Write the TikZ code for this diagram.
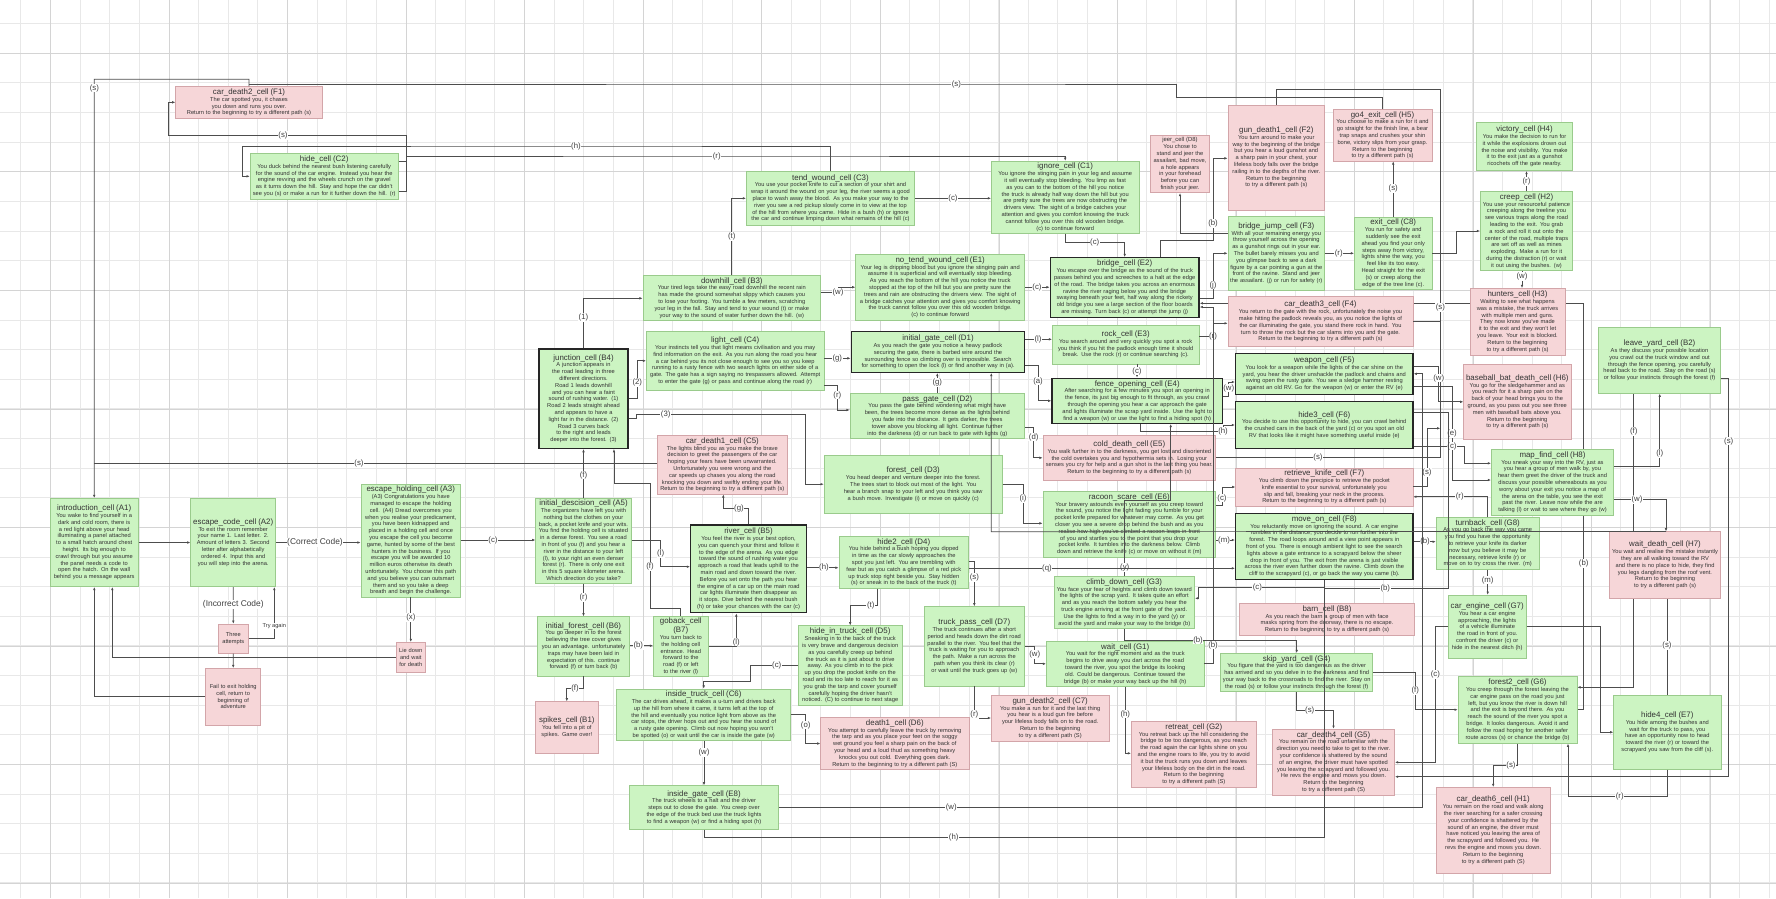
\documentclass[tikz,border=0pt]{standalone}
\usepackage{fontspec}
\setmainfont{Liberation Sans}
\usetikzlibrary{arrows.meta,backgrounds}
\definecolor{cellgreen}{HTML}{CCF4C2}
\definecolor{greenline}{HTML}{9ACB8C}
\definecolor{cellpink}{HTML}{F6D6D8}
\definecolor{pinkline}{HTML}{D3A5A9}
\definecolor{textgray}{HTML}{333333}
\definecolor{edgegray}{HTML}{4D4D4D}
\newcommand{\ttl}[1]{{\fontsize{7.9}{9}\selectfont #1\par}}
\hyphenpenalty=10000
\exhyphenpenalty=10000

\begin{document}
\begin{tikzpicture}[x=1pt,y=-1pt,
  every node/.style={font=\fontsize{5.7}{6.8}\selectfont,text=textgray},
  gcell/.style={draw=greenline,fill=cellgreen,align=center,inner sep=2pt,line width=0.6pt},
  gbold/.style={gcell,draw=black!85,line width=1.4pt},
  pcell/.style={draw=pinkline,fill=cellpink,align=center,inner sep=2pt,line width=0.6pt},
  ar/.style={-{Latex[length=3.2pt,width=2.6pt]},draw=edgegray,line width=0.7pt},
  ln/.style={draw=edgegray,line width=0.7pt},
  lbl/.style={fill=white,inner sep=0.6pt,font=\fontsize{7.8}{8}\selectfont,text=black!75},
  gmin/.style={draw=black!9,line width=0.6pt},
  gmaj/.style={draw=black!17,line width=0.7pt}]
\useasboundingbox (0,0) rectangle (1776,898);
\begin{scope}[on background layer]
\fill[white] (0,0) rectangle (1776,898);
\foreach \i in {0,...,59} \draw[gmin] ({20.7+29.63*\i},0) -- ++(0,898);
\foreach \j in {0,...,29} \draw[gmin] (0,{23.5+29.63*\j}) -- ++(1776,0);
\foreach \i in {0,...,14} \draw[gmaj] ({50.7+118.52*\i},0) -- ++(0,898);
\foreach \j in {0,...,7} \draw[gmaj] (0,{53.3+118.52*\j}) -- ++(1776,0);
\end{scope}

% cells
\node[pcell,text width=142.6pt,minimum height=31.6pt] (cdeathtwo) at (249,102.5) {\ttl{car\_death2\_cell (F1)}The car spotted you, it chases you down and runs you over.\\Return to the beginning to try a different path (s)};
\node[gcell,text width=144.3pt,minimum height=46pt] (hide) at (324.2,176.3) {\ttl{hide\_cell (C2)}You duck behind the nearest bush listening carefully for the sound of the car engine. Instead you hear the engine revving and the wheels crunch on the gravel as it turns down the hill. Stay and hope the car didn't see you (s) or make a run for it further down the hill. (r)};
\node[gcell,text width=164.4pt,minimum height=53.3pt] (tend) at (830.5,198.3) {\ttl{tend\_wound\_cell (C3)}You use your pocket knife to cut a section of your shirt and wrap it around the wound on your leg, the river seems a good place to wash away the blood. As you make your way to the river you see a red pickup slowly come in to view at the top of the hill from where you came. Hide in a bush (h) or ignore the car and continue limping down what remains of the hill (c)};
\node[gcell,text width=143.7pt,minimum height=65.7pt] (ignore) at (1065.2,197.2) {\ttl{ignore\_cell (C1)}You ignore the stinging pain in your leg and assume it will eventually stop bleeding. You limp as fast as you can to the bottom of the hill you notice the truck is already half way down the hill but you are pretty sure the trees are now obstructing the drivers view. The sight of a bridge catches your attention and gives you comfort knowing the truck cannot follow you over this old wooden bridge.\\(c) to continue forward};
\node[pcell,text width=55.4pt,minimum height=51.7pt] (jeer) at (1180,164.2) {{\fontsize{5.9}{7.2}\selectfont jeer\_cell (D8)\par}You chose to stand and jeer the assailant, bad move, a hole appears in your forehead before you can finish your jeer.};
\node[pcell,text width=92.7pt,minimum height=105pt] (gdeathone) at (1276.3,157.5) {\ttl{gun\_death1\_cell (F2)}You turn around to make your way to the beginning of the bridge but you hear a loud gunshot and a sharp pain in your chest, your lifeless body falls over the bridge railing in to the depths of the river.\\Return to the beginning to try a different path (s)};
\node[gcell,text width=92.7pt,minimum height=73.3pt] (bjump) at (1276.3,253.3) {\ttl{bridge\_jump\_cell (F3)}With all your remaining energy you throw yourself across the opening as a gunshot rings out in your ear. The bullet barely misses you and you glimpse back to see a dark figure by a car pointing a gun at the front of the ravine. Stand and jeer the assailant. (j) or run for safety (r)};
\node[pcell,text width=95pt,minimum height=51.7pt] (gofour) at (1382.5,135.2) {\ttl{go4\_exit\_cell (H5)}You choose to make a run for it and go straight for the finish line, a bear trap snaps and crushes your shin bone, victory slips from your grasp.\\Return to the beginning to try a different path (s)};
\node[gcell,text width=73.7pt,minimum height=70pt] (exit) at (1393.2,253.3) {\ttl{exit\_cell (C8)}You run for safety and suddenly see the exit ahead you find your only steps away from victory, lights shine the way, you feel like its too easy. Head straight for the exit (s) or creep along the edge of the tree line (c).};
\node[gcell,text width=92.4pt,minimum height=48.4pt] (victory) at (1524.5,146.5) {\ttl{victory\_cell (H4)}You make the decision to run for it while the explosions drown out the noise and visibility. You make it to the exit just as a gunshot ricochets off the gate nearby.};
\node[gcell,text width=88.4pt,minimum height=73.4pt] (creep) at (1526.5,231) {\ttl{creep\_cell (H2)}You use your resourceful patience creeping along the treeline you see various traps along the road leading to the exit. You grab a rock and roll it out onto the center of the road, multiple traps are set off as well as mines exploding. Make a run for it during the distraction (r) or wait it out using the bushes. (w)};
\node[pcell,text width=91pt,minimum height=66.7pt] (hunters) at (1517.5,321.7) {\ttl{hunters\_cell (H3)}Waiting to see what happens was a mistake, the truck arrives with multiple men and guns. They now know you've made it to the exit and they won't let you leave. Your exit is blocked.\\Return to the beginning to try a different path (s)};
\node[gcell,text width=117.6pt,minimum height=65.6pt] (leave) at (1659.5,360.5) {\ttl{leave\_yard\_cell (B2)}As they discuss your possible location you crawl out the truck window and out through the fence opening, you carefully head back to the road. Stay on the road (s) or follow your instincts through the forest (f)};
\node[gcell,text width=173.7pt,minimum height=44.3pt] (downhill) at (731.8,297.8) {\ttl{downhill\_cell (B3)}Your tired legs take the easy road downhill the recent rain has made the ground somewhat slippy which causes you to lose your footing. You tumble a few meters, scratching your leg in the fall. Stay and tend to your wound (t) or make your way to the sound of water further down the hill. (w)};
\node[gcell,text width=165pt,minimum height=65.7pt] (notend) at (940.2,287.2) {\ttl{no\_tend\_wound\_cell (E1)}Your leg is dripping blood but you ignore the stinging pain and assume it is superficial and will eventually stop bleeding. As you reach the bottom of the hill you notice the truck stopped at the top of the hill but you are pretty sure the trees and rain are obstructing the drivers view. The sight of a bridge catches your attention and gives you comfort knowing the truck cannot follow you over this old wooden bridge.\\(c) to continue forward};
\node[gbold,text width=144.7pt,minimum height=59.6pt] (bridge) at (1124.7,287.5) {\ttl{bridge\_cell (E2)}You escape over the bridge as the sound of the truck passes behind you and screeches to a halt at the edge of the road. The bridge takes you across an enormous ravine the river raging below you and the bridge swaying beneath your feet, half way along the rickety old bridge you see a large section of the floor boards are missing. Turn back (c) or attempt the jump (j)};
\node[pcell,text width=181pt,minimum height=50pt] (cdeaththree) at (1320.5,321.7) {\ttl{car\_death3\_cell (F4)}You return to the gate with the rock, unfortunately the noise you make hitting the padlock reveals you, as you notice the lights of the car illuminating the gate, you stand there rock in hand. You turn to throw the rock but the car slams into you and the gate.\\Return to the beginning to try a different path (s)};
\node[gcell,text width=173.7pt,minimum height=58.3pt] (light) at (735.2,360.8) {\ttl{light\_cell (C4)}Your instincts tell you that light means civilisation and you may find information on the exit. As you run along the road you hear a car behind you its not close enough to see you so you keep running to a rusty fence with two search lights on either side of a gate. The gate has a sign saying no trespassers allowed. Attempt to enter the gate (g) or pass and continue along the road (r)};
\node[gbold,text width=169.4pt,minimum height=40.6pt] (igate) at (938,352) {\ttl{initial\_gate\_cell (D1)}As you reach the gate you notice a heavy padlock securing the gate, there is barbed wire around the surrounding fence so climbing over is impossible. Search for something to open the lock (l) or find another way in (a).};
\node[gcell,text width=142.7pt,minimum height=39pt] (rock) at (1125.7,344.5) {\ttl{rock\_cell (E3)}You search around and very quickly you spot a rock you think if you hit the padlock enough time it should break. Use the rock (r) or continue searching (c).};
\node[gbold,text width=85pt,minimum height=99.3pt] (junction) at (583.5,398.7) {\ttl{junction\_cell (B4)}A junction appears in the road leading in three different directions.\\Road 1 leads downhill and you can hear a faint sound of rushing water. (1)\\Road 2 leads straight ahead and appears to have a light far in the distance. (2)\\Road 3 curves back to the right and leads deeper into the forest. (3)};
\node[gcell,text width=170.7pt,minimum height=45pt] (pass) at (937.3,415.8) {\ttl{pass\_gate\_cell (D2)}You pass the gate behind wondering what might have been, the trees become more dense as the lights behind you fade into the distance. It gets darker, the trees tower above you blocking all light. Continue further into the darkness (d) or run back to gate with lights (g)};
\node[gbold,text width=166.3pt,minimum height=45pt] (fence) at (1137.2,400.8) {\ttl{fence\_opening\_cell (E4)}After searching for a few minutes you spot an opening in the fence, its just big enough to fit through, as you crawl through the opening you hear a car approach the gate and lights illuminate the scrap yard inside. Use the light to find a weapon (w) or use the light to find a hiding spot (h)};
\node[gbold,text width=173.3pt,minimum height=41pt] (weapon) at (1324.3,373.8) {\ttl{weapon\_cell (F5)}You look for a weapon while the lights of the car shine on the yard, you hear the driver unshackle the padlock and chains and swing open the rusty gate. You see a sledge hammer resting against an old RV. Go for the weapon (w) or enter the RV (e)};
\node[gbold,text width=173.3pt,minimum height=46.6pt] (hidethree) at (1324.3,425) {\ttl{hide3\_cell (F6)}You decide to use this opportunity to hide, you can crawl behind the crushed cars in the back of the yard (c) or you spot an old RV that looks like it might have something useful inside (e)};
\node[pcell,text width=103.3pt,minimum height=75pt] (bat) at (1517.3,401.8) {\ttl{baseball\_bat\_death\_cell (H6)}You go for the sledgehammer and as you reach for it a sharp pain on the back of your head brings you to the ground, as you pass out you see three men with baseball bats above you.\\Return to the beginning to try a different path (s)};
\node[pcell,text width=126pt,minimum height=58.3pt] (cdeathone) at (722.3,464.8) {\ttl{car\_death1\_cell (C5)}The lights blind you as you make the brave decision to greet the passengers of the car hoping your fears have been unwarranted. Unfortunately you were wrong and the car speeds up chases you along the road knocking you down and swiftly ending your life.\\Return to the beginning to try a different path (s)};
\node[gcell,text width=174.3pt,minimum height=58.3pt] (forest) at (913.2,484.2) {\ttl{forest\_cell (D3)}You head deeper and venture deeper into the forest. The trees start to block out most of the light. You hear a branch snap to your left and you think you saw a bush move. Investigate (i) or move on quickly (c)};
\node[pcell,text width=168.7pt,minimum height=44.3pt] (cold) at (1129.3,457.8) {\ttl{cold\_death\_cell (E5)}You walk further in to the darkness, you get lost and disoriented the cold overtakes you and hypothermia sets in. Losing your senses you cry for help and a gun shot is the last thing you hear.\\Return to the beginning to try a different path (s)};
\node[pcell,text width=173.3pt,minimum height=37.4pt] (knife) at (1324.3,487) {\ttl{retrieve\_knife\_cell (F7)}You climb down the precipice to retrieve the pocket knife essential to your survival, unfortunately you slip and fall, breaking your neck in the process.\\Return to the beginning to try a different path (s)};
\node[gcell,text width=118.4pt,minimum height=65.7pt] (map) at (1552.5,482.2) {\ttl{map\_find\_cell (H8)}You sneak your way into the RV, just as you hear a group of men walk by, you hear them greet the driver of the truck and discuss your possible whereabouts as you worry about your exit you notice a map of the arena on the table, you see the exit past the river. Leave now while the are talking (l) or wait to see where they go (w)};
\node[gcell,text width=84.3pt,minimum height=88.4pt] (intro) at (94.2,542.5) {\ttl{introduction\_cell (A1)}You wake to find yourself in a dark and cold room, there is a red light above your head illuminating a panel attached to a small hatch around chest height. Its big enough to crawl through but you assume the panel needs a code to open the hatch. On the wall behind you a message appears};
\node[gcell,text width=81pt,minimum height=88.4pt] (code) at (233.2,542.5) {\ttl{escape\_code\_cell (A2)}To exit the room remember your name 1. Last letter. 2. Amount of letters 3. Second letter after alphabetically ordered 4. Input this and you will step into the arena.};
\node[gcell,text width=95.7pt,minimum height=106.7pt] (holding) at (410.8,540.7) {\ttl{escape\_holding\_cell (A3)}(A3) Congratulations you have managed to escape the holding cell. (A4) Dread overcomes you when you realise your predicament, you have been kidnapped and placed in a holding cell and once you escape the cell you become game, hunted by some of the best hunters in the business. If you escape you will be awarded 10 million euros otherwise its death unfortunately. You choose this path and you believe you can outsmart them and so you take a deep breath and begin the challenge.};
\node[gcell,text width=91.6pt,minimum height=77pt] (decision) at (583.5,540.8) {\ttl{initial\_descision\_cell (A5)}The organizers have left you with nothing but the clothes on your back, a pocket knife and your wits. You find the holding cell is situated in a dense forest. You see a road in front of you (f) and you hear a river in the distance to your left (l), to your right an even denser forest (r). There is only one exit in this 5 square kilometer arena. Which direction do you take?};
\node[gbold,text width=111.6pt,minimum height=87.7pt] (river) at (748.5,568.8) {\ttl{river\_cell (B5)}You feel the river is your best option, you can quench your thirst and follow it to the edge of the arena. As you edge toward the sound of rushing water you approach a road that leads uphill to the main road and down toward the river. Before you set onto the path you hear the engine of a car up on the main road car lights illuminate then disappear as it stops. Dive behind the nearest bush (h) or take your chances with the car (c)};
\node[gcell,text width=125.7pt,minimum height=52.3pt] (hidetwo) at (903.8,562.2) {\ttl{hide2\_cell (D4)}You hide behind a bush hoping you dipped in time as the car slowly approaches the spot you just left. You are trembling with fear but as you catch a glimpse of a red pick up truck stop right beside you. Stay hidden (s) or sneak in to the back of the truck (t)};
\node[gcell,text width=168.7pt,minimum height=65pt] (racoon) at (1129.3,524.2) {\ttl{racoon\_scare\_cell (E6)}Your bravery astounds even yourself as you creep toward the sound, you notice the light fading you fumble for your pocket knife prepared for whatever may come. As you get closer you see a severe drop behind the bush and as you realise how high you've climbed a racoon leaps in front of you and startles you to the point that you drop your pocket knife. It tumbles into the darkness below. Climb down and retrieve the knife (c) or move on without it (m)};
\node[gbold,text width=173.3pt,minimum height=66pt] (moveon) at (1324.3,546.3) {\ttl{move\_on\_cell (F8)}You reluctantly move on ignoring the sound. A car engine rumbles in the distance, you decide to run further into the forest. The road loops around and a view point appears in front of you. There is enough ambient light to see the search lights above a gate entrance to a scrapyard below the sheer drop in front of you. The exit from the arena is just visible across the river even further down the ravine. Climb down the cliff to the scrapyard (c), or go back the way you came (b).};
\node[gcell,text width=99.3pt,minimum height=52pt] (turnback) at (1487.7,543.3) {\ttl{turnback\_cell (G8)}As you go back the way you came you find you have the opportunity to retrieve your knife its darker now but you believe it may be necessary, retrieve knife (r) or move on to try cross the river. (m)};
\node[pcell,text width=106.6pt,minimum height=66.6pt] (waitdeath) at (1665,565) {\ttl{wait\_death\_cell (H7)}You wait and realise the mistake instantly they are all walking toward the RV and there is no place to hide, they find you legs dangling from the roof vent.\\Return to the beginning to try a different path (s)};
\node[gcell,text width=136.7pt,minimum height=51.6pt] (climb) at (1124.3,602.5) {\ttl{climb\_down\_cell (G3)}You face your fear of heights and climb down toward the lights of the scrap yard. It takes quite an effort and as you reach the bottom safely you hear the truck engine arriving at the front gate of the yard. Use the lights to find a way in to the yard (y) or avoid the yard and make your way to the bridge (b)};
\node[pcell,text width=170.6pt,minimum height=31.7pt] (barn) at (1327,619.2) {\ttl{barn\_cell (B8)}As you reach the barn a group of men with face masks spring from the doorway, there is no escape.\\Return to the beginning to try a different path (s)};
\node[gcell,text width=74.3pt,minimum height=63.3pt] (engine) at (1487.2,626.7) {\ttl{car\_engine\_cell (G7)}You hear a car engine approaching, the lights of a vehicle illuminate the road in front of you. confront the driver (c) or hide in the nearest ditch (h)};
\node[pcell,text width=26pt,minimum height=29.3pt] (tries) at (233.3,638.7) {Three attempts};
\node[pcell,text width=51pt,minimum height=56.7pt] (fail) at (233.2,696.7) {Fail to exit holding cell, return to beginning of adventure};
\node[pcell,text width=25.7pt,minimum height=30pt] (liedown) at (410.8,657.3) {Lie down and wait for death};
\node[gcell,text width=88.4pt,minimum height=59.3pt] (iforest) at (583.5,646.3) {\ttl{initial\_forest\_cell (B6)}You go deeper in to the forest believing the tree cover gives you an advantage. unfortunately traps may have been laid in expectation of this. continue forward (f) or turn back (b)};
\node[gcell,text width=51pt,minimum height=59.3pt] (goback) at (680.8,646.3) {\ttl{goback\_cell (B7)}You turn back to the holding cell entrance. Head forward to the road (f) or left to the river (l)};
\node[pcell,text width=58.3pt,minimum height=51.6pt] (spikes) at (566.8,727.5) {\ttl{spikes\_cell (B1)}You fell into a pit of spikes. Game over!};
\node[gcell,text width=99.7pt,minimum height=80pt] (intruck) at (850.2,665.7) {\ttl{hide\_in\_truck\_cell (D5)}Sneaking in to the back of the truck is very brave and dangerous decision as you carefully creep up behind the truck as it is just about to drive away. As you climb in to the pick up you drop the pocket knife on the road and its too late to reach for it as you grab the tarp and cover yourself carefully hoping the driver hasn't noticed. (C) to continue to next stage};
\node[gcell,text width=170pt,minimum height=51.7pt] (insidetruck) at (703.7,714.8) {\ttl{inside\_truck\_cell (C6)}The car drives ahead, it makes a u-turn and drives back up the hill from where it came, it turns left at the top of the hill and eventually you notice light from above as the car stops, the driver hops out and you hear the sound of a rusty gate opening. Climb out now hoping you won't be spotted (o) or wait until the car is inside the gate (w)};
\node[gcell,text width=144.6pt,minimum height=43.6pt] (insidegate) at (704,807.5) {\ttl{inside\_gate\_cell (E8)}The truck wheels to a halt and the driver steps out to close the gate. You creep over the edge of the truck bed use the truck lights to find a weapon (w) or find a hiding spot (h)};
\node[pcell,text width=144.3pt,minimum height=51.6pt] (deathone) at (894.8,743.5) {\ttl{death1\_cell (D6)}You attempt to carefully leave the truck by removing the tarp and as you place your feet on the soggy wet ground you feel a sharp pain on the back of your head and a loud thud as something heavy knocks you out cold. Everything goes dark.\\Return to the beginning to try a different path (S)};
\node[gcell,text width=96.7pt,minimum height=79.3pt] (truckpass) at (974.3,646.3) {\ttl{truck\_pass\_cell (D7)}The truck continues after a short period and heads down the dirt road parallel to the river. You feel that the truck is waiting for you to approach the path. Make a run across the path when you think its clear (r) or wait until the truck goes up (w)};
\node[pcell,text width=113.7pt,minimum height=46pt] (gdeathtwo) at (1050.2,718) {\ttl{gun\_death2\_cell (C7)}You make a run for it and the last thing you hear is a loud gun fire before your lifeless body falls on to the road.\\Return to the beginning to try a different path (S)};
\node[gcell,text width=153.7pt,minimum height=37.7pt] (wait) at (1125.2,663.8) {\ttl{wait\_cell (G1)}You wait for the right moment and as the truck begins to drive away you dart across the road toward the river, you spot the bridge its looking old. Could be dangerous. Continue toward the bridge (b) or make your way back up the hill (h)};
\node[pcell,text width=121pt,minimum height=58.3pt] (retreat) at (1193.8,754.2) {\ttl{retreat\_cell (G2)}You retreat back up the hill considering the bridge to be too dangerous, as you reach the road again the car lights shine on you and the engine roars to life, you try to avoid it but the truck runs you down and leaves your lifeless body on the dirt in the road.\\Return to the beginning to try a different path (S)};
\node[gcell,text width=148pt,minimum height=38.4pt] (skip) at (1296.7,672.5) {\ttl{skip\_yard\_cell (G4)}You figure that the yard is too dangerous as the driver has arrived and so you delve in to the darkness and find your way back to the crossroads to find the river. Stay on the road (s) or follow your instincts through the forest (f)};
\node[pcell,text width=118.4pt,minimum height=66pt] (cdeathfour) at (1333.5,762) {\ttl{car\_death4\_cell (G5)}You remain on the road unfamiliar with the direction you need to take to get to the river. your confidence is shattered by the sound of an engine, the driver must have spotted you leaving the scrapyard and followed you. He revs the engine and mows you down.\\Return to the beginning to try a different path (S)};
\node[gcell,text width=115pt,minimum height=67.3pt] (foresttwo) at (1517.5,709.7) {\ttl{forest2\_cell (G6)}You creep through the forest leaving the car engine pass on the road you just left, but you know the river is down hill and the exit is beyond there. As you reach the sound of the river you spot a bridge. It looks dangerous. Avoid it and follow the road hoping for another safer route across (s) or chance the bridge (b)};
\node[pcell,text width=110.3pt,minimum height=86pt] (cdeathsix) at (1493.2,830.3) {\ttl{car\_death6\_cell (H1)}You remain on the road and walk along the river searching for a safer crossing your confidence is shattered by the sound of an engine, the driver must have noticed you leaving the area of the scrapyard and followed you. He revs the engine and mows you down.\\Return to the beginning to try a different path (S)};
\node[gcell,text width=103.3pt,minimum height=74.3pt] (hidefour) at (1667.3,732.2) {\ttl{hide4\_cell (E7)}You hide among the bushes and wait for the truck to pass, you have an opportunity now to head toward the river (r) or toward the scrapyard you saw from the cliff (s).};

% return lines along the top
\draw[ar] (cdeathtwo.north) -- (249,79.3) -- (94.3,79.3) -- (94.3,88) node[lbl]{(s)} -- (intro.north);
\draw[ln] (gofour.north) -- (1382.5,97) -- (1176.3,97) -- (1176.3,84) -- (956.3,84) node[lbl]{(s)} -- (249,84);
\draw[ln] (cold.east |- 0,457.3) -- (1318,457.3) node[lbl]{(s)} -- (1440.3,457.3) -- (1440.3,307.7) node[lbl]{(s)} -- (1440.3,89.3) -- (1276.3,89.3) -- (gdeathone.north);
\draw[ar] (knife.east |- 0,486.7) -- (1427,486.7) -- (1427,472.3) node[lbl]{(s)} -- (1427,428.3) -- (1440.3,428.3);
\draw[ln] (cdeaththree.east) -- (1440.3,321.7);
\draw[ln] (cdeathone.west |- 0,463.7) -- (359,463.7) node[lbl]{(s)} -- (94.3,463.7);
\draw[ar] (hide.east |- 0,161.7) -- (406,161.7) -- (406,135.7) -- (283,135.7) node[lbl]{(s)} -- (168.3,135.7) -- (168.3,102.3) -- (cdeathtwo.west |- 0,102.3);
\draw[ar] (hide.east |- 0,191.7) -- (406,191.7) -- (406,156) -- (716.7,156) node[lbl]{(r)} -- (1065.2,156) -- (ignore.north);
\draw[ar] (tend.north) -- (830.5,146) -- (576,146) node[lbl]{(h)} -- (242.3,146) -- (242.3,176.3) -- (hide.west);
\draw[ar] (tend.east) -- (953,198.3) node[lbl]{(c)} -- (ignore.west |- tend.east);
\draw[ar] (ignore.south) -- (1065.2,242.7) -- (1094.7,242.7) node[lbl]{(c)} -- (1124.7,242.7) -- (bridge.north);
\draw[ar] (downhill.north) -- (731.8,236.7) node[lbl]{(t)} -- (731.8,198.3) -- (tend.west);
\draw[ar] (downhill.east |- 0,292.7) -- (838,292.7) node[lbl]{(w)} -- (838,287.2) -- (notend.west);
\draw[ar] (junction.north) -- (583.5,317.3) node[lbl]{(1)} -- (583.5,298.3) -- (downhill.west |- 0,298.3);
\draw[ar] (notend.east) -- (1037,287.2) node[lbl]{(c)} -- (bridge.west |- notend.east);
\draw[ar] (bjump.west |- 0,233.3) -- (1180,233.3) -- (jeer.south);
\draw[ar] (bridge.north -| 1160.7,0) -- (1160.7,240) -- (1213,240) -- (1213,223.3) node[lbl]{(b)} -- (1213,158.3) -- (gdeathone.west |- 0,158.3);
\draw[ar] (bridge.east |- 0,298) -- (1213,298) -- (1213,285) node[lbl]{(j)} -- (1213,253.3) -- (bjump.west |- 0,253.3);
\draw[ar] (rock.east |- 0,336) -- (1213,336) node[lbl]{(r)} -- (1213,323.3) -- (cdeaththree.west |- 0,323.3);
\draw[ar] (wait.east |- 0,663.3) -- (1213,663.3) -- (1213,645) node[lbl]{(b)} -- (1213,307) -- (bridge.east |- 0,307);
\draw[ar] (climb.south -| 1124.7,0) -- (1124.7,640) -- (1198,640) node[lbl]{(b)} -- (1296.7,640) -- (skip.north);
\draw[ar] (bjump.east) -- (1338.7,253.3) node[lbl]{(r)} -- (exit.west);
\draw[ar] (exit.north) -- (1393.2,188.3) node[lbl]{(s)} -- (exit.north |- gofour.south);
\draw[ar] (exit.east) -- (1456,253.3) -- (1456,231) -- (creep.west);
\draw[ar] (creep.north) -- (1526.5,181.7) node[lbl]{(r)} -- (creep.north |- victory.south);
\draw[ar] (creep.south -| 1522,0) -- (1522,276.7) node[lbl]{(w)} -- (hunters.north -| 1522,0);
% middle band
\draw[ar] (junction.east |- 0,398.3) -- (637.3,398.3) -- (637.3,382.3) node[lbl]{(2)} -- (637.3,360.8) -- (light.west);
\draw[ar] (junction.east |- 0,418.3) -- (636,418.3) -- (636,414) -- (665.7,414) node[lbl]{(3)} -- (805.7,414) -- (805.7,484.2) -- (forest.west);
\draw[ar] (light.east |- 0,358.3) -- (837.3,358.3) node[lbl]{(g)} -- (igate.west |- 0,358.3);
\draw[ar] (light.east |- 0,385) -- (837.3,385) -- (837.3,395) node[lbl]{(r)} -- (837.3,410) -- (pass.west |- 0,410);
\draw[ar] (igate.east |- 0,339.3) -- (1038,339.3) node[lbl]{(l)} -- (rock.west |- 0,339.3);
\draw[ar] (igate.east |- 0,365) -- (1038,365) -- (1038,381) node[lbl]{(a)} -- (1038,400.8) -- (fence.west);
\draw[ar] (pass.north) -- (937.3,382.3) node[lbl]{(g)} -- (pass.north |- igate.south);
\draw[ar] (pass.east |- 0,427.7) -- (1033.7,427.7) -- (1033.7,437) node[lbl]{(d)} -- (1033.7,457.8) -- (cold.west);
\draw[ar] (rock.south -| 1137,0) -- (1137,371) node[lbl]{(c)} -- (fence.north -| 1137,0);
\draw[ar] (fence.east |- 0,396) -- (1228.7,396) -- (1228.7,388) node[lbl]{(w)} -- (1228.7,382) -- (weapon.west |- 0,382);
\draw[ar] (fence.south -| 1140,0) -- (1140,431) -- (1223,431) node[lbl]{(h)} -- (1223,425) -- (hidethree.west);
\draw[ar] (forest.east) -- (1023,484.2) -- (1023,498.3) node[lbl]{(i)} -- (1023,523.3) -- (racoon.west |- 0,523.3);
\draw[ar] (racoon.east |- 0,505) -- (1222,505) -- (1222,498) node[lbl]{(c)} -- (1222,487) -- (knife.west);
\draw[ar] (racoon.east |- 0,540) -- (1224,540) node[lbl]{(m)} -- (moveon.west |- 0,540);
\draw[ar] (climb.north -| 1124.7,0) -- (1124.7,567.7) node[lbl]{(y)} -- (1124.7,500) -- (1170.7,500) -- (fence.south -| 1170.7,0);
\draw[ar] (hidetwo.east |- 0,568.3) -- (1047,568.3) node[lbl]{(q)} -- (moveon.west |- 0,568.3);
\draw[ln] (hidefour.north -| 1667,0) -- (1667,645.7) node[lbl]{(s)} -- (waitdeath.south -| 1667,0);
\draw[ar] (waitdeath.north -| 1666,0) -- (991.3,531.7) -- (igate.south -| 991.3,0);
\draw[ar] (moveon.east |- 0,541.7) -- (1425,541.7) node[lbl]{(b)} -- (turnback.west |- 0,541.7);
\draw[ar] (moveon.south -| 1324.7,0) -- (1324.7,587.3) -- (1257.3,587.3) node[lbl]{(c)} -- (1198,587.3) -- (1198,598.3) -- (climb.east |- 0,598.3);
\draw[ar] (weapon.east |- 0,366) -- (1438.7,366) -- (1438.7,378) node[lbl]{(w)} -- (1438.7,401.8) -- (bat.west);
\draw[ar] (weapon.east |- 0,386) -- (1452,386) -- (1452,433.3) node[lbl]{(e)} -- (1452,480) -- (map.west |- 0,480);
\draw[ar] (hidethree.east |- 0,446) -- (1452,446) node[lbl]{(c)} -- (1464,446) -- (1464,463.3) -- (map.west |- 0,463.3);
\draw[ln] (hidethree.east |- 0,412.7) -- (1448.7,412.7) -- (1448.7,588) -- (1385.3,588) node[lbl]{(b)} -- (1324.7,588);
\draw[ar] (turnback.north) -- (1487.7,496.7) -- (1459.7,496.7) node[lbl]{(r)} -- (knife.east |- 0,496.7);
\draw[ar] (turnback.south) -- (1487.7,580) node[lbl]{(m)} -- (turnback.south |- engine.north);
\draw[ar] (map.east |- 0,466.7) -- (1659.7,466.7) -- (1659.7,453.3) node[lbl]{(l)} -- (leave.south -| 1659.7,0);
\draw[ar] (map.east |- 0,499.3) -- (1637,499.3) node[lbl]{(w)} -- (1666,499.3) -- (waitdeath.north -| 1666,0);
\draw[ar] (leave.east |- 0,378.3) -- (1728.7,378.3) -- (1728.7,441) node[lbl]{(s)} -- (1728.7,776.7) -- (cdeathfour.east |- 0,776.7);
% left side
\draw[ar] (intro.east) -- (code.west);
\draw[ar] (code.east) -- (315,542.5) node[lbl,font=\fontsize{8.4}{9}\selectfont]{(Correct Code)} -- (holding.west |- code.east);
\draw[ar] (code.south) -- (233.3,604.3) node[lbl,font=\fontsize{8.4}{9}\selectfont]{(Incorrect Code)} -- (tries.north);
\draw[ar] (tries.east) -- (274.3,638.7) -- (274.3,625.7) node[lbl,font=\fontsize{5.6}{6}\selectfont,text=textgray]{Try again} -- (code.south -| 274.3,0);
\draw[ar] (tries.south) -- (fail.north);
\draw[ar] (fail.west) -- (94.3,696.7) -- (intro.south -| 94.3,0);
\draw[ar] (holding.south) -- (410.8,617.7) node[lbl]{(x)} -- (liedown.north);
\draw[ar] (liedown.west) -- (112.3,657.3) -- (intro.south -| 112.3,0);
\draw[ar] (holding.east |- 0,540) -- (493,540) node[lbl]{(c)} -- (decision.west |- 0,540);
\draw[ar] (decision.north) -- (583.5,475) node[lbl]{(f)} -- (junction.south);
\draw[ar] (decision.east |- 0,540.7) -- (660.7,540.7) -- (660.7,553.3) node[lbl]{(l)} -- (660.7,566.7) -- (river.west |- 0,566.7);
\draw[ar] (decision.south) -- (583.5,597.3) node[lbl]{(r)} -- (iforest.north);
\draw[ar] (river.north -| 748,0) -- (748,508.3) -- (739,508.3) node[lbl]{(g)} -- (723.3,508.3) -- (cdeathone.south -| 723.3,0);
\draw[ar] (river.east |- 0,567.7) -- (824,567.7) node[lbl]{(h)} -- (hidetwo.west |- 0,567.7);
\draw[ar] (goback.north) -- (680.8,608.3) -- (650,608.3) -- (650,566.7) node[lbl]{(f)} -- (650,483.3) -- (614,483.3) -- (junction.south -| 614,0);
\draw[ar] (iforest.east |- 0,645.7) -- (638.3,645.7) node[lbl]{(b)} -- (goback.west |- 0,645.7);
\draw[ar] (iforest.south) -- (583.5,688.3) -- (575,688.3) node[lbl]{(f)} -- (566.8,688.3) -- (spikes.north);
\draw[ar] (goback.east |- 0,646) -- (736.3,646) -- (736.3,642) node[lbl]{(l)} -- (river.south -| 736.3,0);
% lower band
\draw[ar] (hidetwo.east |- 0,561.7) -- (974.3,561.7) -- (974.3,577.3) node[lbl]{(s)} -- (truckpass.north);
\draw[ar] (hidetwo.south -| 877,0) -- (877,605.7) -- (870.7,605.7) node[lbl]{(t)} -- (850.2,605.7) -- (intruck.north);
\draw[ar] (intruck.west) -- (776.7,665.7) node[lbl]{(c)} -- (750.7,665.7) -- (750.7,681) -- (703.7,681) -- (insidetruck.north);
\draw[ar] (insidetruck.east |- 0,714.3) -- (805.7,714.3) -- (805.7,725) node[lbl]{(o)} -- (805.7,743.5) -- (deathone.west);
\draw[ar] (insidetruck.south -| 704,0) -- (704,752.7) node[lbl]{(w)} -- (insidegate.north);
\draw[ar] (insidegate.east |- 0,807.3) -- (951.3,807.3) node[lbl]{(w)} -- (1422,807.3) -- (1422,373.8) -- (weapon.east);
\draw[ln] (insidegate.south) -- (704,837.7) -- (953.7,837.7) node[lbl]{(h)} -- (1324.7,837.7) -- (1324.7,588);
\draw[ar] (truckpass.east |- 0,646.7) -- (1034.7,646.7) -- (1034.7,654.3) node[lbl]{(w)} -- (1034.7,663.8) -- (wait.west);
\draw[ar] (truckpass.south) -- (974.3,714.3) node[lbl]{(r)} -- (974.3,718) -- (gdeathtwo.west);
\draw[ar] (wait.south -| 1125.3,0) -- (1125.3,714) node[lbl]{(h)} -- (1125.3,753.3) -- (retreat.west |- 0,753.3);
\draw[ar] (skip.east |- 0,672.3) -- (1415.3,672.3) -- (1415.3,690.7) node[lbl]{(f)} -- (1415.3,709.7) -- (foresttwo.west);
\draw[ar] (skip.south -| 1296.3,0) -- (1296.3,710) -- (1309.7,710) node[lbl]{(s)} -- (1333.5,710) -- (cdeathfour.north);
\draw[ar] (engine.west |- 0,626) -- (1435.3,626) -- (1435.3,674.3) node[lbl]{(c)} -- (1435.3,762.3) -- (cdeathfour.east |- 0,762.3);
\draw[ar] (engine.east |- 0,626) -- (1600.3,626) -- (1600.3,732.2) -- (hidefour.west);
\draw[ar] (foresttwo.south -| 1517.7,0) -- (1517.7,765) -- (1511,765) node[lbl]{(s)} -- (1493.2,765) -- (cdeathsix.north);
\draw[ar] (hidefour.south -| 1667,0) -- (1667,796) -- (1619.7,796) node[lbl]{(r)} -- (1568,796) -- (foresttwo.south -| 1568,0);
% lines that run behind the cells
\begin{scope}[on background layer]
\draw[ar] (foresttwo.east |- 0,709.3) -- (1583.7,709.3) -- (1583.7,303.3) -- (bridge.east |- 0,303.3);
\draw[ar] (leave.south -| 1633.7,0) -- (1633.7,687.3) -- (foresttwo.east |- 0,687.3);
\end{scope}
\path (1583.7,563.3) node[lbl]{(b)} (1633.7,431.7) node[lbl]{(f)};
\end{tikzpicture}
\end{document}
